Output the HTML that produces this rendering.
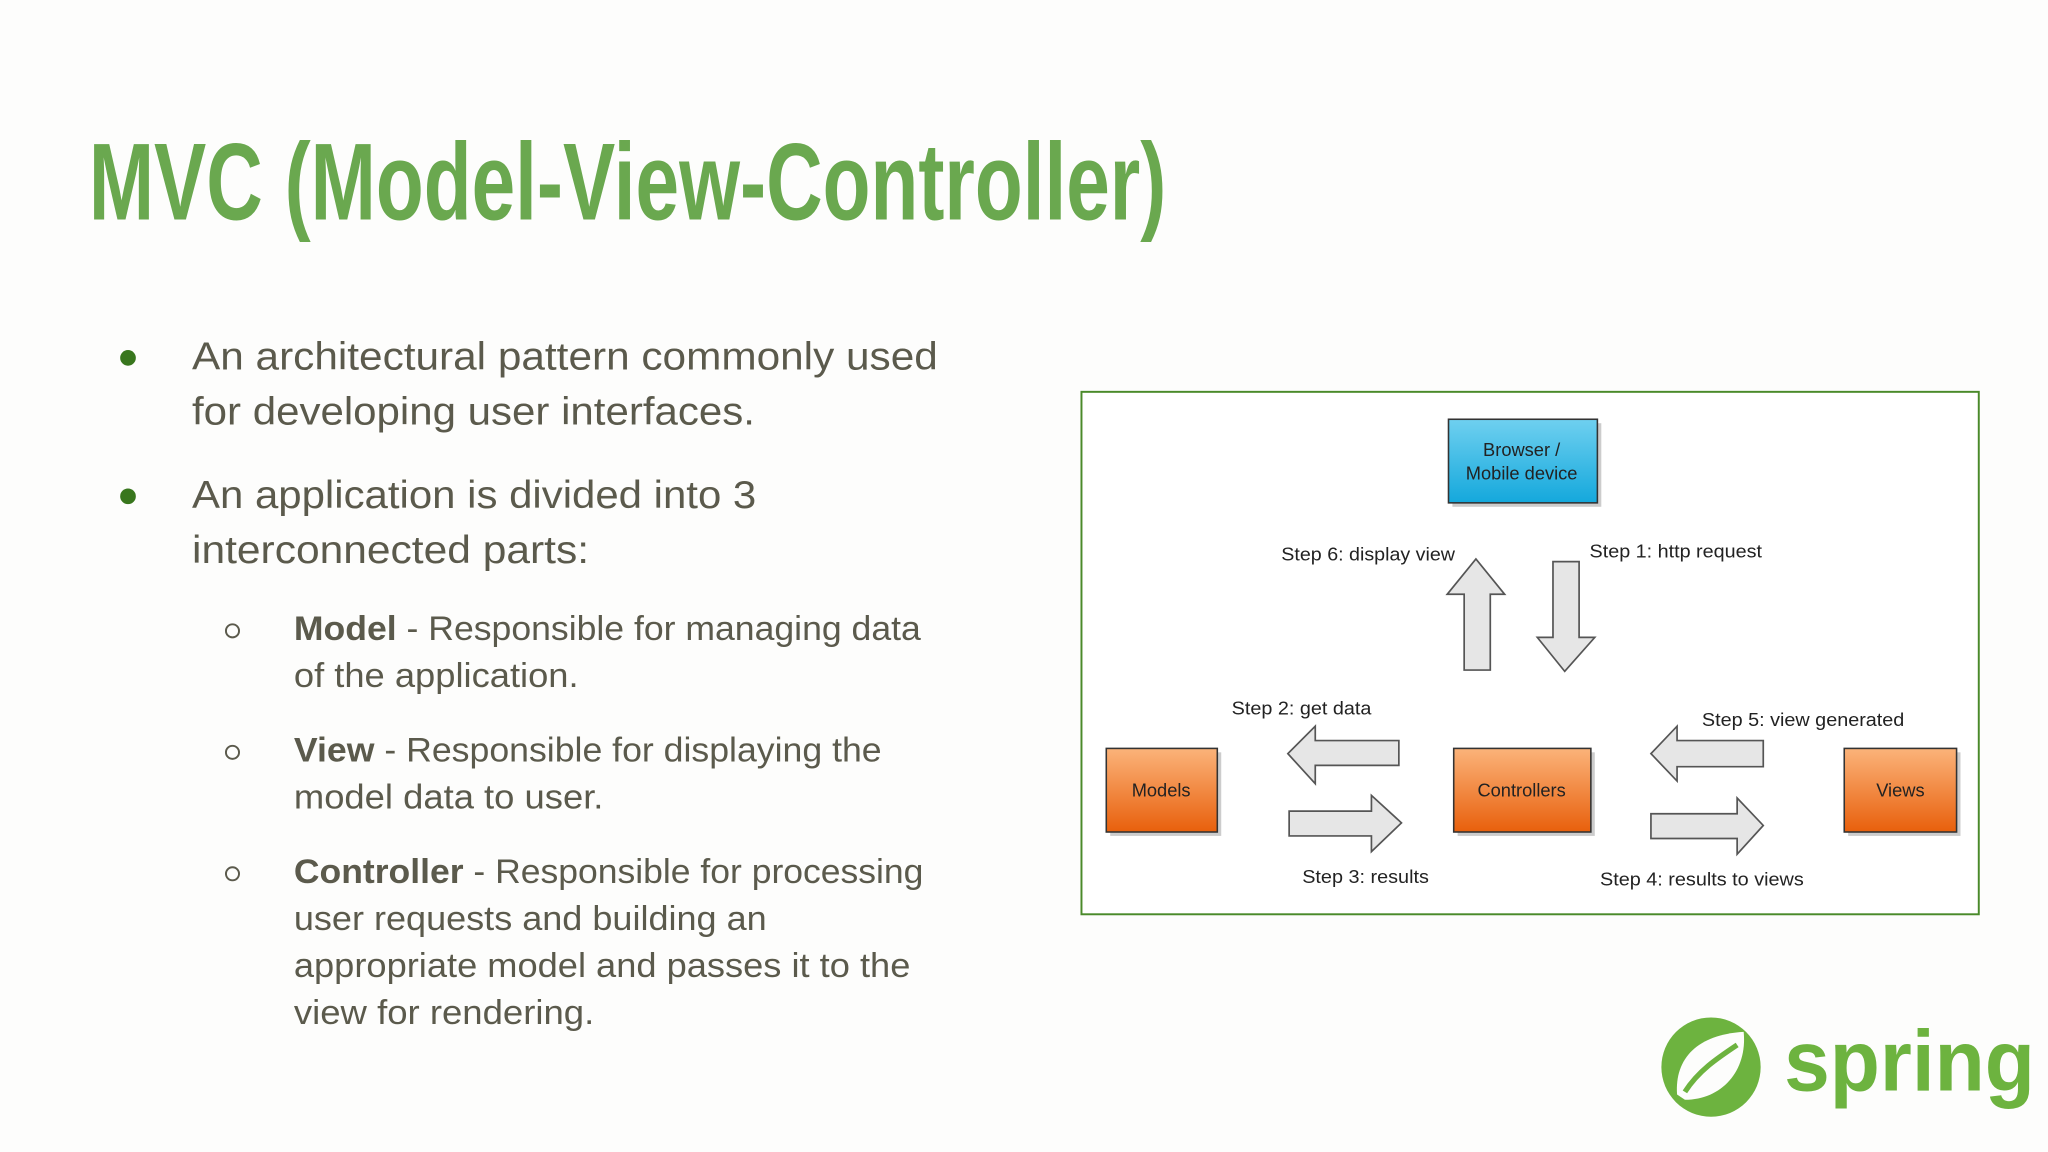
<!DOCTYPE html>
<html><head><meta charset="utf-8"><style>
html,body{margin:0;padding:0;background:#fdfdfc;}
svg{display:block;}
</style></head><body>
<svg width="2048" height="1152" viewBox="0 0 1568 882" xmlns="http://www.w3.org/2000/svg">
<defs>
<linearGradient id="og" x1="0" y1="0" x2="0" y2="1"><stop offset="0" stop-color="#fbb37a"/><stop offset="1" stop-color="#e8600c"/></linearGradient>
<linearGradient id="bg" x1="0" y1="0" x2="0" y2="1"><stop offset="0" stop-color="#6fd0f0"/><stop offset="1" stop-color="#14a8dc"/></linearGradient>
</defs>
<rect width="1568" height="882" fill="#fdfdfc"/>
<text x="68" y="168" font-family="Liberation Sans Narrow, Liberation Sans, sans-serif" font-weight="bold" font-size="84" fill="#6aa84f" textLength="825" lengthAdjust="spacingAndGlyphs">MVC (Model-View-Controller)</text>

<g font-family="Liberation Sans, sans-serif" fill="#5b5a4c">
<circle cx="98" cy="274" r="6" fill="#38761d"/>
<circle cx="98" cy="380" r="6" fill="#38761d"/>
<text x="147" y="283" font-size="30" textLength="571" lengthAdjust="spacingAndGlyphs">An architectural pattern commonly used</text>
<text x="147" y="325" font-size="30" textLength="431" lengthAdjust="spacingAndGlyphs">for developing user interfaces.</text>
<text x="147" y="389" font-size="30" textLength="432" lengthAdjust="spacingAndGlyphs">An application is divided into 3</text>
<text x="147" y="431" font-size="30" textLength="304" lengthAdjust="spacingAndGlyphs">interconnected parts:</text>
<g fill="none" stroke="#5b5a4c" stroke-width="1.5">
<circle cx="178" cy="483" r="5"/><circle cx="178" cy="576" r="5"/><circle cx="178" cy="669" r="5"/>
</g>
<text x="225" y="490" font-size="26" textLength="480" lengthAdjust="spacingAndGlyphs"><tspan font-weight="bold">Model</tspan> - Responsible for managing data</text>
<text x="225" y="526" font-size="26" textLength="218" lengthAdjust="spacingAndGlyphs">of the application.</text>
<text x="225" y="583" font-size="26" textLength="450" lengthAdjust="spacingAndGlyphs"><tspan font-weight="bold">View</tspan> - Responsible for displaying the</text>
<text x="225" y="619" font-size="26" textLength="237" lengthAdjust="spacingAndGlyphs">model data to user.</text>
<text x="225" y="676" font-size="26" textLength="482" lengthAdjust="spacingAndGlyphs"><tspan font-weight="bold">Controller</tspan> - Responsible for processing</text>
<text x="225" y="712" font-size="26" textLength="362" lengthAdjust="spacingAndGlyphs">user requests and building an</text>
<text x="225" y="748" font-size="26" textLength="472" lengthAdjust="spacingAndGlyphs">appropriate model and passes it to the</text>
<text x="225" y="784" font-size="26" textLength="230" lengthAdjust="spacingAndGlyphs">view for rendering.</text>
</g>

<!-- diagram -->
<rect x="828" y="300" width="687" height="400" fill="#ffffff" stroke="#4a8a2a" stroke-width="1.5"/>
<g stroke="#333" stroke-width="1.2">
<rect x="1112" y="324" width="114" height="64" fill="#999" stroke="none" opacity="0.5"/>
<rect x="1109" y="321" width="114" height="64" fill="url(#bg)"/>
<rect x="850" y="576" width="85" height="64" fill="#999" stroke="none" opacity="0.5"/>
<rect x="847" y="573" width="85" height="64" fill="url(#og)"/>
<rect x="1116" y="576" width="105" height="64" fill="#999" stroke="none" opacity="0.5"/>
<rect x="1113" y="573" width="105" height="64" fill="url(#og)"/>
<rect x="1415" y="576" width="86" height="64" fill="#999" stroke="none" opacity="0.5"/>
<rect x="1412" y="573" width="86" height="64" fill="url(#og)"/>
</g>
<g fill="#e6e6e6" stroke="#555" stroke-width="1.3" stroke-linejoin="miter">
<polygon points="1121,513 1141,513 1141,455 1152,455 1130,428 1108,455 1121,455"/>
<polygon points="1189,430 1209,430 1209,488 1221,488 1198,514 1177,488 1189,488"/>
<polygon points="1071,567 1007,567 1007,556 986,577 1007,600 1007,586 1071,586"/>
<polygon points="987,621 1050,621 1050,609 1073,630 1050,652 1050,640 987,640"/>
<polygon points="1350,567 1284,567 1284,556 1264,577 1284,598 1284,587 1350,587"/>
<polygon points="1264,623 1330,623 1330,611 1350,632 1330,654 1330,642 1264,642"/>
</g>
<g font-family="Liberation Sans, sans-serif" font-size="14" fill="#222">
<text x="1165" y="349" text-anchor="middle">Browser /</text>
<text x="1165" y="367" text-anchor="middle">Mobile device</text>
<text x="889" y="610" text-anchor="middle">Models</text>
<text x="1165" y="610" text-anchor="middle">Controllers</text>
<text x="1455" y="610" text-anchor="middle">Views</text>
<text x="981" y="429" textLength="133" lengthAdjust="spacingAndGlyphs">Step 6: display view</text>
<text x="1217" y="427" textLength="132" lengthAdjust="spacingAndGlyphs">Step 1: http request</text>
<text x="943" y="547" textLength="107" lengthAdjust="spacingAndGlyphs">Step 2: get data</text>
<text x="1303" y="556" textLength="155" lengthAdjust="spacingAndGlyphs">Step 5: view generated</text>
<text x="997" y="676" textLength="97" lengthAdjust="spacingAndGlyphs">Step 3: results</text>
<text x="1225" y="678" textLength="156" lengthAdjust="spacingAndGlyphs">Step 4: results to views</text>
</g>

<!-- spring logo -->
<circle cx="1310" cy="817" r="38" fill="#6db33f"/>
<path d="M1284,838 C1282,810 1300,792 1335,790 C1338,820 1318,842 1290,842 Z" fill="#fdfdfc"/>
<path d="M1290,836 C1300,820 1315,810 1330,800" stroke="#6db33f" stroke-width="4" fill="none"/>
<text x="1366" y="835" font-family="Liberation Sans, sans-serif" font-weight="bold" font-size="66" fill="#6db33f" textLength="192" lengthAdjust="spacingAndGlyphs">spring</text>
</svg>
</body></html>
